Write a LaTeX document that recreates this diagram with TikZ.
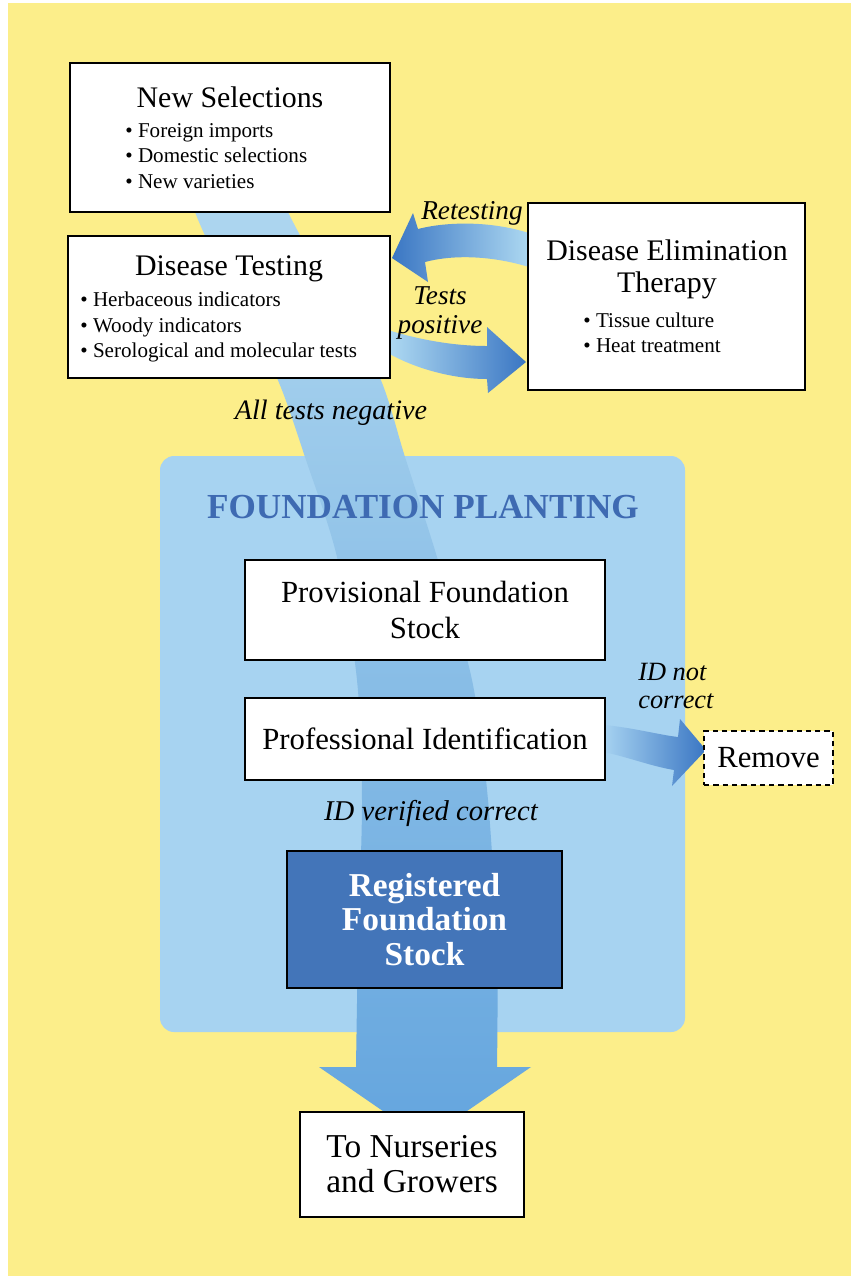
\documentclass[tikz,border=0pt]{standalone}
\usepackage{fontspec}
\setmainfont{Liberation Serif}
\usetikzlibrary{fit}
\definecolor{bgyellow}{RGB}{252,238,138}
\definecolor{regionblue}{RGB}{167,211,241}
\definecolor{titleblue}{RGB}{62,106,178}
\definecolor{rfsblue}{RGB}{67,117,185}
\definecolor{bandtop}{RGB}{178,217,240}
\definecolor{bandbot}{RGB}{100,165,222}
\definecolor{arrdark}{RGB}{58,118,195}
\definecolor{arrlight}{RGB}{175,218,242}
\begin{document}
\begin{tikzpicture}[x=0.02cm,y=-0.02cm,
  box/.style={draw=black, line width=1.6pt, fill=white, inner sep=0pt},
  head/.style={font=\fontsize{17}{18.1}\selectfont, align=center, inner sep=0pt},
  items/.style={font=\fontsize{12}{14.7}\selectfont, align=left, inner sep=0pt, anchor=west},
  lab/.style={font=\fontsize{15.5}{17}\itshape\selectfont, align=center, inner sep=0pt},
  big/.style={font=\fontsize{17.5}{20}\selectfont, align=center, inner sep=0pt}]
\useasboundingbox (0,0) rectangle (851,1276);
\fill[white] (0,0) rectangle (851,1276);
\fill[bgyellow] (8,3) rectangle (851,1276);

% foundation region
\node[fit={(160,456) (685,1032)}, inner sep=0pt, fill=regionblue, rounded corners=8pt] (fp) {};

% main flow band
\shade[top color=bandtop, bottom color=bandbot]
  plot[smooth] coordinates {(180,150) (195,212) (236,300) (277,378) (305,457) (337,557) (357,680) (362,800) (358,950) (356,1067)}
  -- (319,1067) -- (425,1140) -- (531,1067) -- (497,1067)
  -- plot[smooth] coordinates {(497,1067) (497,950) (488,800) (472,680) (437,557) (405,457) (380,378) (336,300) (288,212) (265,150)}
  -- cycle;

% retesting arrow (right light -> left dark)
\shade[left color=arrdark, right color=arrlight]
  (532,234) .. controls (490,220) and (445,222) .. (418,229)
  -- (413,213) -- (392,258) -- (428,282) -- (425,262)
  .. controls (455,254) and (495,256) .. (532,268) -- cycle;

% tests positive arrow (left light -> right dark)
\shade[left color=arrlight, right color=arrdark]
  (388,330) .. controls (420,340) and (455,346) .. (487,346)
  -- (487,327) -- (526,362) -- (488,393) -- (487,379)
  .. controls (450,379) and (412,367) .. (388,353) -- cycle;

% remove arrow
\shade[left color=regionblue, right color=arrdark]
  (603,725) .. controls (630,727) and (660,735) .. (678,737)
  -- (680,719) -- (706,750) -- (672,786) -- (674,770)
  .. controls (650,766) and (625,756) .. (603,752) -- cycle;

% boxes
\node[box, fit={(70,63) (390,212)}] (ns) {};
\node[box, fit={(68,236) (390,378)}] (dt) {};
\node[box, fit={(528,203) (805,390)}] (det) {};
\node[box, fit={(245,560) (605,660)}] (pfs) {};
\node[box, fit={(245,698) (605,780)}] (pid) {};
\node[box, dashed, dash pattern=on 3pt off 2.3pt, fit={(704,731) (833,785)}] (rem) {};
\node[box, fill=rfsblue, fit={(287,851) (562,988)}] (rfs) {};
\node[box, fit={(300,1112) (524,1217)}] (tn) {};

% texts
\node[head] (nst) at (230,97) {New Selections};
\node[items] (nsi) at (125,156) {\textbullet\ Foreign imports\\ \textbullet\ Domestic selections\\ \textbullet\ New varieties};
\node[head] (dtt) at (229,269) {Disease Testing};
\node[items] (dti) at (80,327) {\textbullet\ Herbaceous indicators\\ \textbullet\ Woody indicators\\ \textbullet\ Serological and molecular tests};
\node[head] (dett) at (667,269) {Disease Elimination\\Therapy};
\node[items, font=\fontsize{12}{14.2}\selectfont] (deti) at (583,333) {\textbullet\ Tissue culture\\ \textbullet\ Heat treatment};

\node[lab] (lret) at (472,213) {Retesting};
\node[lab] (lpos) at (440,313) {Tests\\positive};
\node[lab, font=\fontsize{16}{17}\itshape\selectfont] (lneg) at (331,413) {All tests negative};
\node[lab, align=left, anchor=west, font=\fontsize{15}{16}\itshape\selectfont] (lnot) at (638,686) {ID not\\correct};
\node[lab, font=\fontsize{16.3}{17}\itshape\selectfont] (lver) at (431,813) {ID verified correct};

\node[font=\fontsize{20}{22}\bfseries\selectfont, text=titleblue, inner sep=0pt] (fpt) at (423,507) {FOUNDATION PLANTING};
\node[big] (pfst) at (pfs.center) {Provisional Foundation\\Stock};
\node[big] (pidt) at (pid.center) {Professional Identification};
\node[big] (remt) at (rem.center) {Remove};
\node[big, font=\fontsize{19}{19.5}\bfseries\selectfont, text=white] (rfst) at (rfs.center) {Registered\\Foundation\\Stock};
\node[big, font=\fontsize{19}{20}\selectfont] (tnt) at (tn.center) {To Nurseries\\and Growers};
\end{tikzpicture}
\end{document}
